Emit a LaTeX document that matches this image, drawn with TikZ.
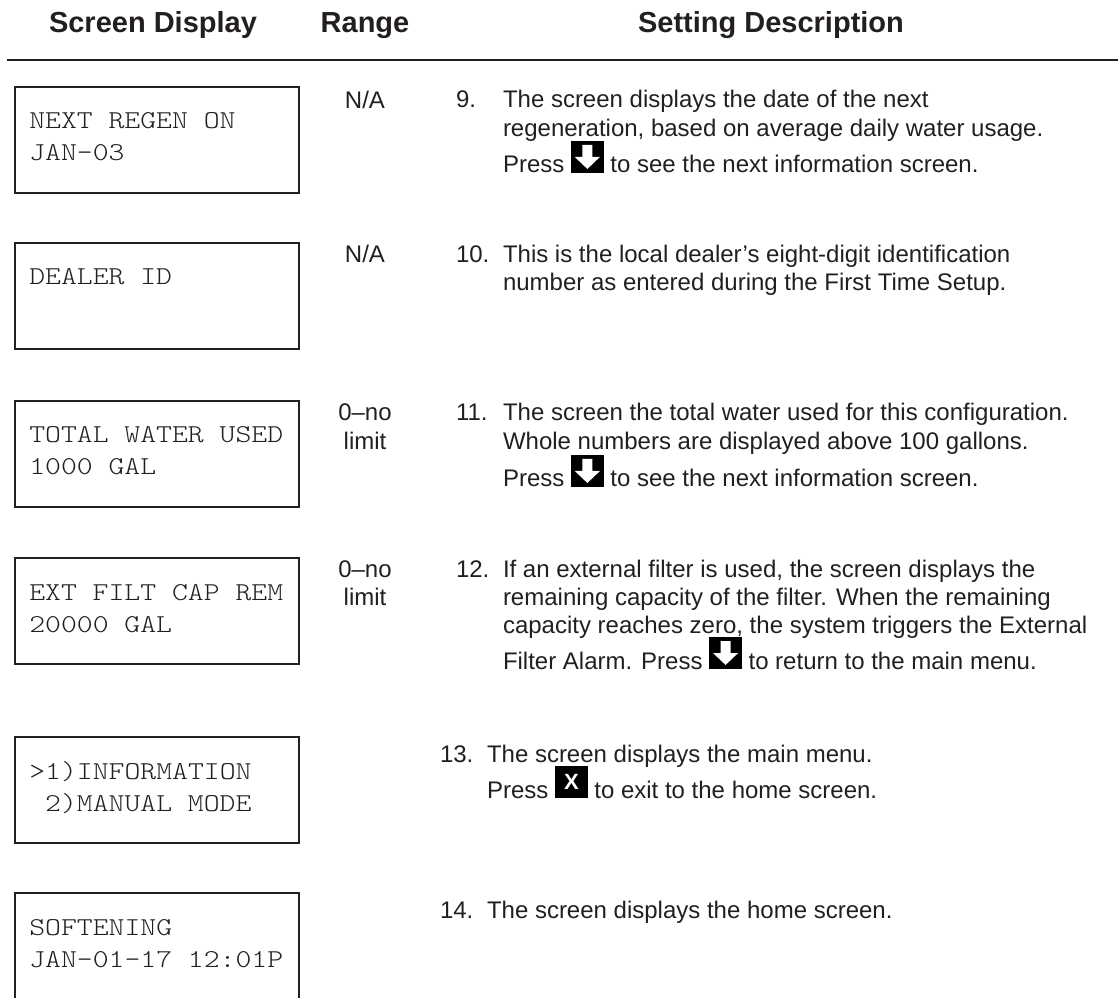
\documentclass[tikz,border=0pt]{standalone}
\usepackage{fontspec}
\setmainfont{Liberation Sans}
\newfontfamily\lcdfont[FakeStretch=1.175]{lmmonolt10-regular.otf}
\usetikzlibrary{calc}
\definecolor{inkgray}{HTML}{231F20}

\tikzset{
  txt/.style={inner sep=0pt, outer sep=0pt, anchor=base west, text=inkgray, font=\fontsize{18}{21.75}\selectfont},
  rng/.style={txt, anchor=base},
  head/.style={inner sep=0pt, anchor=base, text=inkgray, font=\fontsize{21.75}{26}\selectfont\bfseries},
  lcd/.style={inner sep=0pt, anchor=base west, text=inkgray, font=\lcdfont\fontsize{19.3}{24}\selectfont},
  screenbox/.style={draw=inkgray, line width=1.5pt, anchor=north west, inner sep=0pt, outer sep=0pt, minimum width=213pt},
  keybase/.style={fill=black, inner sep=0pt, outer sep=0pt, anchor=south west, minimum width=24.75pt, minimum height=24pt},
  downkey/.style={keybase, path picture={
      \fill[white, shift={(path picture bounding box.center)}]
        (-3.75pt,9pt) -- (3.75pt,9pt) -- (3.75pt,0pt) -- (9.4pt,0pt)
        -- (0pt,-9pt) -- (-9.4pt,0pt) -- (-3.75pt,0pt) -- cycle;}},
  xkey/.style={keybase, text=white, font=\fontsize{16.5}{18}\selectfont\bfseries},
}

\begin{document}
\begin{tikzpicture}[x=0.75pt, y=-0.75pt]
\useasboundingbox (0,0) rectangle (1118,998);

% column heads
\node[head] (hScreen) at (153,33) {Screen Display};
\node[head] (hRange) at (365,33) {Range};
\node[head] (hDesc) at (771,33) {Setting Description};
\coordinate (ruleL) at (7,60);
\coordinate (ruleR) at (1118,60);
\draw[draw=inkgray, line width=1.5pt] (ruleL) -- (ruleR);

% screen displays
\def\bx{15} % left edge of the boxes
\foreach \i/\t/\h/\la/\lb in {9/87/106/NEXT REGEN ON/JAN-03, 10/243/106/DEALER ID/, 11/401/106/TOTAL WATER USED/1000 GAL, 12/558/106/EXT FILT CAP REM/20000 GAL, 13/737/106/>1)INFORMATION/\ 2)MANUAL MODE, 14/893/150/SOFTENING/JAN-01-17 12:01P}
{
\node[screenbox, minimum height=\h*0.75pt] (scr\i) at (\bx,\t) {};
\node[lcd] (scrA\i) at ($(scr\i.north west)+(14,42)$) {\la};
\node[lcd] (scrB\i) at ($(scr\i.north west)+(14,74)$) {\lb};
}

% range
\node[rng] (rng9) at (365,109) {N/A};
\node[rng] (rng10) at (365,263) {N/A};
\node[rng] (rng11a) at (365,421) {0–no};
\node[rng] (rng11b) at (365,450) {limit};
\node[rng] (rng12a) at (365,577) {0–no};
\node[rng] (rng12b) at (365,605) {limit};

% setting description
\node[txt] (num9) at (456,108) {9.};
\node[txt] (dsc9a) at (503,108) {The screen displays the date of the next};
\node[txt] (dsc9b) at (503,137) {regeneration, based on average daily water usage.};
\node[txt] (dsc9c) at (503,173) {Press};
\node[downkey] (key9) at ($(dsc9c.base east)+(6.5,0)$) {};
\node[txt] (dsc9d) at ($(key9.south east)+(6.5,0)$) {to see the next information screen.};

\node[txt] (num10) at (456,263) {10.};
\node[txt] (dsc10a) at (503,263) {This is the local dealer’s eight-digit identification};
\node[txt] (dsc10b) at (503,291) {number as entered during the First Time Setup.};

\node[txt] (num11) at (456,421) {11.};
\node[txt] (dsc11a) at (503,421) {The screen the total water used for this configuration.};
\node[txt] (dsc11b) at (503,450) {Whole numbers are displayed above 100 gallons.};
\node[txt] (dsc11c) at (503,487) {Press};
\node[downkey] (key11) at ($(dsc11c.base east)+(6.5,0)$) {};
\node[txt] (dsc11d) at ($(key11.south east)+(6.5,0)$) {to see the next information screen.};

\node[txt] (num12) at (456,577) {12.};
\node[txt] (dsc12a) at (503,577) {If an external filter is used, the screen displays the};
\node[txt] (dsc12b) at (503,605) {remaining capacity of the filter. When the remaining};
\node[txt] (dsc12c) at (503,633) {capacity reaches zero, the system triggers the External};
\node[txt] (dsc12d) at (503,669) {Filter Alarm. Press};
\node[downkey] (key12) at ($(dsc12d.base east)+(6.5,0)$) {};
\node[txt] (dsc12e) at ($(key12.south east)+(6.5,0)$) {to return to the main menu.};

\node[txt] (num13) at (440,762) {13.};
\node[txt] (dsc13a) at (487,762) {The screen displays the main menu.};
\node[txt] (dsc13b) at (487,798) {Press};
\node[xkey] (key13) at ($(dsc13b.base east)+(6.5,0)$) {X};
\node[txt] (dsc13c) at ($(key13.south east)+(6.5,0)$) {to exit to the home screen.};

\node[txt] (num14) at (440,918) {14.};
\node[txt] (dsc14a) at (487,918) {The screen displays the home screen.};
\end{tikzpicture}
\end{document}
